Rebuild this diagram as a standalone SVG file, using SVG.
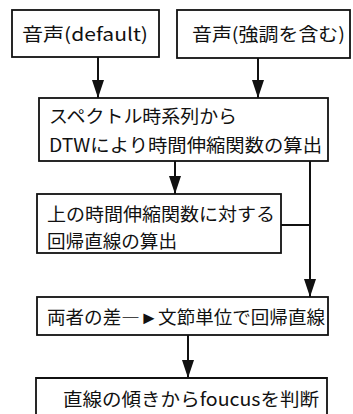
<svg xmlns="http://www.w3.org/2000/svg" width="353" height="414" viewBox="0 0 353 414">
<style>
.box{fill:#fff;stroke:#111;stroke-width:1.8}
.t{font-family:"Noto Sans CJK JP","Noto Sans",sans-serif;font-size:18px;fill:#111}
.c{fill:none;stroke:#111;stroke-width:2}
</style>
<defs>
<marker id="ah" markerUnits="userSpaceOnUse" markerWidth="18" markerHeight="12" refX="18" refY="6" orient="auto" viewBox="0 0 18 12">
<path d="M0,0 L18,6 L0,12 z" fill="#111"/>
</marker>
</defs>
<rect width="353" height="414" fill="#fff"/>
<g id="connectors">
<line class="c" x1="98" y1="57" x2="98" y2="98" marker-end="url(#ah)"/>
<line class="c" x1="258" y1="58" x2="258" y2="98" marker-end="url(#ah)"/>
<line class="c" x1="175" y1="161" x2="175" y2="194" marker-end="url(#ah)"/>
<line class="c" x1="281" y1="225" x2="310" y2="225"/>
<line class="c" x1="310" y1="161" x2="310" y2="297" marker-end="url(#ah)"/>
<line class="c" x1="188" y1="335" x2="188" y2="378" marker-end="url(#ah)"/>
</g>
<g id="n1">
<rect class="box" x="12" y="10" width="147" height="47"/>
<text class="t" x="22" y="41" textLength="126" lengthAdjust="spacingAndGlyphs">音声(default)</text>
</g>
<g id="n2">
<rect class="box" x="177" y="10" width="173" height="48"/>
<text class="t" x="192" y="41" textLength="153" lengthAdjust="spacingAndGlyphs">音声(強調を含む)</text>
</g>
<g id="n3">
<rect class="box" x="39" y="98" width="289" height="63"/>
<text class="t" x="49" y="123" textLength="188" lengthAdjust="spacingAndGlyphs">スペクトル時系列から</text>
<text class="t" x="49" y="152" textLength="273" lengthAdjust="spacingAndGlyphs">DTWにより時間伸縮関数の算出</text>
</g>
<g id="n4">
<rect class="box" x="37" y="194" width="244" height="59"/>
<text class="t" x="47" y="221" textLength="228" lengthAdjust="spacingAndGlyphs">上の時間伸縮関数に対する</text>
<text class="t" x="47" y="248" textLength="130" lengthAdjust="spacingAndGlyphs">回帰直線の算出</text>
</g>
<g id="n5">
<rect class="box" x="37" y="297" width="291" height="38"/>
<text class="t" x="47" y="324" textLength="278" lengthAdjust="spacingAndGlyphs">両者の差―►文節単位で回帰直線</text>
</g>
<g id="n6">
<path class="box" d="M36,416 V378 H327 V416"/>
<text class="t" x="63" y="406" textLength="256" lengthAdjust="spacingAndGlyphs">直線の傾きからfoucusを判断</text>
</g>
</svg>
